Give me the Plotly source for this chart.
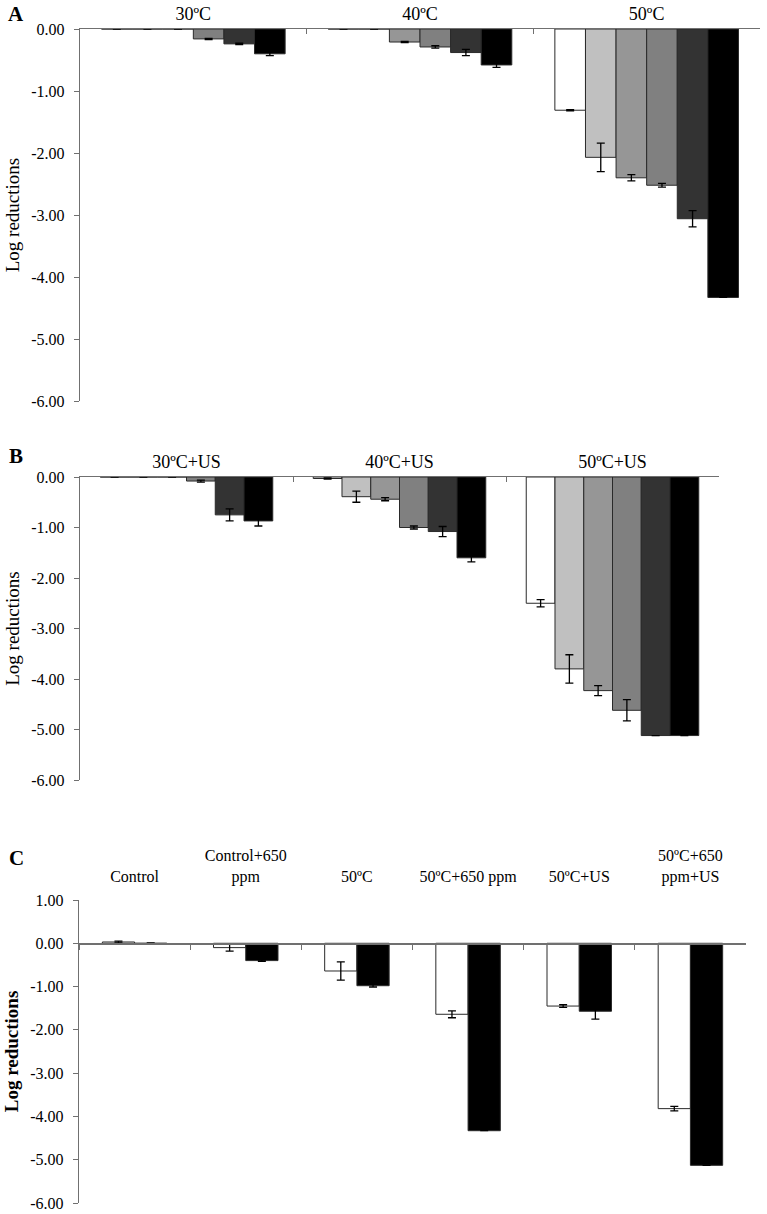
import plotly.graph_objects as go

W, H = 767, 1214
FONT = "'Liberation Serif', 'Times New Roman', 'DejaVu Serif', serif"

# ---------------- data ----------------
series_colors = ["#ffffff", "#c0c0c0", "#969696", "#808080", "#333333", "#000000"]

# Panel A (heat only)
a_categories = ["30ºC", "40ºC", "50ºC"]
a_s1 = [0.00, 0.00, -1.31]
a_s2 = [0.00, 0.00, -2.07]
a_s3 = [0.00, -0.21, -2.40]
a_s4 = [-0.16, -0.29, -2.52]
a_s5 = [-0.24, -0.38, -3.06]
a_s6 = [-0.40, -0.58, -4.33]
a_e1 = [0.00, 0.00, 0.01]
a_e2 = [0.00, 0.00, 0.23]
a_e3 = [0.00, 0.01, 0.05]
a_e4 = [0.01, 0.02, 0.03]
a_e5 = [0.01, 0.05, 0.13]
a_e6 = [0.03, 0.04, 0.00]

# Panel B (heat + US)
b_categories = ["30ºC+US", "40ºC+US", "50ºC+US"]
b_s1 = [0.00, -0.03, -2.50]
b_s2 = [0.00, -0.39, -3.80]
b_s3 = [0.00, -0.44, -4.23]
b_s4 = [-0.08, -1.00, -4.62]
b_s5 = [-0.75, -1.08, -5.12]
b_s6 = [-0.87, -1.60, -5.12]
b_e1 = [0.00, 0.01, 0.07]
b_e2 = [0.00, 0.11, 0.28]
b_e3 = [0.00, 0.03, 0.10]
b_e4 = [0.02, 0.03, 0.21]
b_e5 = [0.12, 0.10, 0.00]
b_e6 = [0.10, 0.08, 0.00]

# Panel C
c_categories = ["Control", "Control+650<br>ppm", "50ºC", "50ºC+650 ppm",
                "50ºC+US", "50ºC+650<br>ppm+US"]
c_white = [0.03, -0.10, -0.64, -1.64, -1.45, -3.82]
c_white_err = [0.02, 0.08, 0.21, 0.08, 0.03, 0.05]
c_black = [0.00, -0.40, -0.98, -4.33, -1.57, -5.13]
c_black_err = [0.01, 0.02, 0.03, 0.00, 0.18, 0.00]

ab_tickvals = [0, -1, -2, -3, -4, -5, -6]
ab_ticktext = ["0.00", "-1.00", "-2.00", "-3.00", "-4.00", "-5.00", "-6.00"]
c_tickvals = [1, 0, -1, -2, -3, -4, -5, -6]
c_ticktext = ["1.00", "0.00", "-1.00", "-2.00", "-3.00", "-4.00", "-5.00", "-6.00"]

# ---------------- layout geometry ----------------
def xd(a, b):
    return [a / W, b / W]

def yd(top, bottom):
    return [1 - bottom / H, 1 - top / H]

A_X, A_Y = xd(80, 760), yd(29, 401)
B_X, B_Y = xd(80, 719), yd(477, 780)
C_X, C_Y = xd(79, 746), yd(900, 1203)
c_range = [-6, 1]
c_zero_pos = C_Y[0] + (0 - c_range[0]) / (c_range[1] - c_range[0]) * (C_Y[1] - C_Y[0])

AXIS_COLOR = "#707070"
BAR_LINE = dict(color="#2a2a2a", width=1)

fig = go.Figure()

def err(arr):
    return dict(type="data", array=arr, visible=True, color="black",
                thickness=1.3, width=4)

a_series = [a_s1, a_s2, a_s3, a_s4, a_s5, a_s6]
a_errs = [a_e1, a_e2, a_e3, a_e4, a_e5, a_e6]
for vals, e, col in zip(a_series, a_errs, series_colors):
    fig.add_trace(go.Bar(x=a_categories, y=vals, error_y=err(e),
                         marker=dict(color=col, line=BAR_LINE),
                         xaxis="x", yaxis="y", showlegend=False))

b_series = [b_s1, b_s2, b_s3, b_s4, b_s5, b_s6]
b_errs = [b_e1, b_e2, b_e3, b_e4, b_e5, b_e6]
for vals, e, col in zip(b_series, b_errs, series_colors):
    fig.add_trace(go.Bar(x=b_categories, y=vals, error_y=err(e),
                         marker=dict(color=col, line=BAR_LINE),
                         xaxis="x2", yaxis="y2", showlegend=False))

C_BAR_W = 0.29
fig.add_trace(go.Bar(x=c_categories, y=c_white, error_y=err(c_white_err),
                     width=C_BAR_W, offset=-C_BAR_W,
                     marker=dict(color="#ffffff", line=BAR_LINE),
                     xaxis="x3", yaxis="y3", showlegend=False))
fig.add_trace(go.Bar(x=c_categories, y=c_black, error_y=err(c_black_err),
                     width=C_BAR_W, offset=0,
                     marker=dict(color="#000000", line=BAR_LINE),
                     xaxis="x3", yaxis="y3", showlegend=False))
# carrier for the top label axis of panel C
fig.add_trace(go.Scatter(x=[], y=[], xaxis="x4", yaxis="y3", showlegend=False,
                         hoverinfo="skip"))

tick_font = dict(family=FONT, size=16, color="black")
cat_font = dict(family=FONT, size=18, color="black")
c_cat_font = dict(family=FONT, size=16, color="black")

def yaxis(domain, anchor, rng, tv, tt, bold=False):
    title = "<b>Log reductions</b>" if bold else "Log reductions"
    return dict(domain=domain, anchor=anchor, range=rng, tickvals=tv, ticktext=tt,
                ticks="outside", ticklen=5, tickcolor=AXIS_COLOR, automargin=False,
                showline=True, linecolor=AXIS_COLOR, linewidth=1.3,
                showgrid=False, zeroline=False, tickfont=tick_font,
                ticklabelstandoff=6,
                title=dict(text=title, font=dict(family=FONT, size=19, color="black"),
                           standoff=6))

def top_cat_axis(domain, anchor):
    return dict(domain=domain, anchor=anchor, side="top", type="category",
                tickson="boundaries", ticks="inside", ticklen=5, tickcolor=AXIS_COLOR,
                showline=True, linecolor=AXIS_COLOR, linewidth=1.3, automargin=False,
                showgrid=False, zeroline=False, tickfont=cat_font,
                ticklabelstandoff=1)

fig.update_layout(
    width=W, height=H,
    margin=dict(l=0, r=0, t=0, b=0, autoexpand=False),
    paper_bgcolor="white", plot_bgcolor="white",
    barmode="group", bargap=0.19, bargroupgap=0,
    font=dict(family=FONT, color="black"),
    xaxis=top_cat_axis(A_X, "y"),
    yaxis=yaxis(A_Y, "x", [-6, 0], ab_tickvals, ab_ticktext),
    xaxis2=top_cat_axis(B_X, "y2"),
    yaxis2=yaxis(B_Y, "x2", [-6, 0], ab_tickvals, ab_ticktext),
    xaxis3=dict(domain=C_X, anchor="free", position=c_zero_pos, side="bottom",
                type="category", tickson="boundaries", ticks="outside", ticklen=5,
                tickcolor=AXIS_COLOR, showline=True, linecolor=AXIS_COLOR,
                linewidth=1.3, showticklabels=False, showgrid=False, zeroline=False,
                automargin=False),
    xaxis4=dict(domain=C_X, overlaying="x3", anchor="y3", side="top",
                range=[-0.5, len(c_categories) - 0.5],
                tickvals=list(range(len(c_categories))), ticktext=c_categories,
                ticks="", showline=False, showgrid=False, zeroline=False,
                tickfont=c_cat_font, ticklabelstandoff=14, automargin=False),
    yaxis3=yaxis(C_Y, "x3", c_range, c_tickvals, c_ticktext, bold=True),
)

for letter, ypix in [("A", 14), ("B", 456), ("C", 858)]:
    fig.add_annotation(text=f"<b>{letter}</b>", x=16 / W, y=1 - ypix / H,
                       xref="paper", yref="paper", showarrow=False,
                       xanchor="center", yanchor="middle",
                       font=dict(family=FONT, size=21, color="black"))

fig.write_html("out.html",
               config={"displayModeBar": False, "staticPlot": True},
               post_script="document.body.style.margin='0px';"
                           "document.body.style.overflow='hidden';")
